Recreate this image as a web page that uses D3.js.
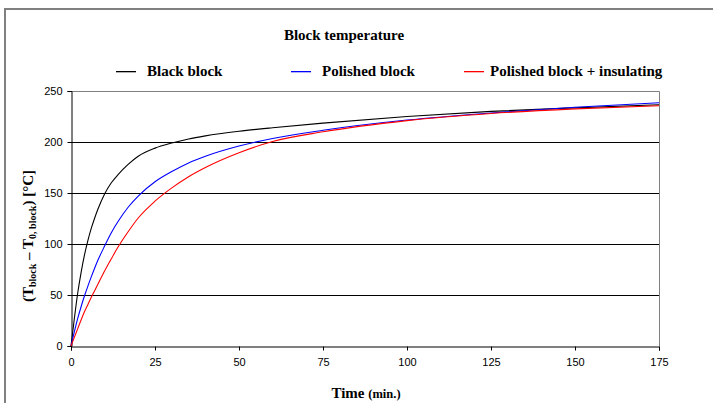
<!DOCTYPE html>
<html lang="en">
<head>
  <meta charset="UTF-8">
  <title>Block temperature</title>
  <script src="https://d3js.org/d3.v7.min.js"></script>
  <style>
    body { margin: 0; background: #fff; }
    svg { display: block; }
    .serif { font-family: "Liberation Serif", "Times New Roman", serif; font-weight: bold; }
    .tick text { font-family: "Liberation Sans", Arial, sans-serif; font-size: 11px; }
  </style>
</head>
<body>
  <div id="viz"></div>

  <script>
    // time in minutes
    const times = [0, 1, 2, 3, 4, 5, 6, 7, 8, 10, 12, 14, 17, 20, 25, 30, 35, 40, 50, 60, 75, 100, 125, 150, 175];

    // temperature rise (T_block - T_0,block) in °C
    const blackBlock = [0, 27, 52, 72, 89, 103, 115, 125, 134, 149, 160, 168, 178, 186, 194, 199, 203, 206, 210.5, 214, 218.5, 225, 230, 233.5, 236.5];
    const polishedBlock = [0, 14, 27, 38.5, 49, 58.5, 67.5, 76, 84, 98, 111, 122, 136, 147, 161, 171, 179.5, 186, 196, 203.5, 211.5, 221.5, 228.5, 234, 238.5];
    const polishedInsulated = [0, 8.5, 17, 25.5, 33.5, 40.5, 47.5, 54, 60.5, 73.5, 85.5, 97, 112, 125.5, 142, 155, 166, 175, 189.5, 200.5, 210, 221, 228, 232.5, 235.5];

    const seriesNames = ['Black block', 'Polished block', 'Polished block + insulating'];
    const seriesColors = ['#000000', '#0000ff', '#ff0000'];
    const xTicks = [0, 25, 50, 75, 100, 125, 150, 175];
    const yTicks = [0, 50, 100, 150, 200, 250];

    const series = [blackBlock, polishedBlock, polishedInsulated].map((vals, i) => ({
      name: seriesNames[i],
      color: seriesColors[i],
      points: times.map((t, j) => [t, vals[j]])
    }));

    const W = 713, H = 403;
    const svg = d3.select('#viz').append('svg')
      .attr('width', W)
      .attr('height', H);

    // outer chart frame
    svg.append('path')
      .attr('d', 'M5,' + (H + 2) + 'V9H' + (W + 2))
      .attr('fill', 'none')
      .attr('stroke', '#808080')
      .attr('stroke-width', 2);

    const x = d3.scaleLinear().domain([0, 175]).range([71, 659]);
    const y = d3.scaleLinear().domain([0, 250]).range([346, 91]);

    // gridlines
    svg.append('g')
      .selectAll('line')
      .data(yTicks.filter(v => v > 0 && v < 250))
      .join('line')
        .attr('x1', x(0)).attr('x2', x(175))
        .attr('y1', d => y(d) + 0.5).attr('y2', d => y(d) + 0.5)
        .attr('stroke', '#000');

    // plot border (top + right)
    svg.append('path')
      .attr('d', `M${x(0)},${y(250) + 0.5}H${x(175) + 0.5}V${y(0)}`)
      .attr('fill', 'none')
      .attr('stroke', '#808080');

    // axes
    svg.append('g')
      .attr('transform', `translate(0,${y(0) + 0.5})`)
      .call(d3.axisBottom(x).tickValues(xTicks).tickSize(4).tickPadding(8))
      .call(g => g.selectAll('path, line').attr('stroke', '#000'));

    svg.append('g')
      .attr('transform', `translate(${x(0) + 0.5},0)`)
      .call(d3.axisLeft(y).tickValues(yTicks).tickSize(4).tickPadding(5))
      .call(g => g.selectAll('path, line').attr('stroke', '#000'));

    // curves
    const line = d3.line()
      .x(d => x(d[0]))
      .y(d => y(d[1]))
      .curve(d3.curveMonotoneX);

    svg.append('g')
      .selectAll('path')
      .data(series)
      .join('path')
        .attr('d', d => line(d.points))
        .attr('fill', 'none')
        .attr('stroke', d => d.color)
        .attr('stroke-width', 1.1);

    // title
    svg.append('text')
      .attr('class', 'serif')
      .attr('x', 344).attr('y', 40)
      .attr('text-anchor', 'middle')
      .style('font-size', '15px')
      .text('Block temperature');

    // legend
    const legendX = [116, 291, 464];
    const legendText = [147, 322, 490];
    seriesNames.forEach((name, i) => {
      svg.append('rect')
        .attr('x', legendX[i]).attr('y', 71)
        .attr('width', 20).attr('height', 1.3)
        .attr('fill', seriesColors[i]);
      svg.append('text')
        .attr('class', 'serif')
        .attr('x', legendText[i]).attr('y', 76)
        .style('font-size', '15px')
        .text(name);
    });

    // x axis title
    const xt = svg.append('text')
      .attr('class', 'serif')
      .attr('x', 366).attr('y', 398)
      .attr('text-anchor', 'middle');
    xt.append('tspan').style('font-size', '15px').text('Time ');
    xt.append('tspan').style('font-size', '12.5px').text('(min.)');

    // y axis title
    const yt = svg.append('text')
      .attr('class', 'serif')
      .attr('transform', 'translate(33,236) rotate(-90)')
      .attr('text-anchor', 'middle')
      .style('font-size', '15px');
    yt.append('tspan').text('(T');
    yt.append('tspan').attr('dy', 3).style('font-size', '10px').text('block');
    yt.append('tspan').attr('dy', -3).text(' \u2013 T');
    yt.append('tspan').attr('dy', 3).style('font-size', '10px').text('0, block');
    yt.append('tspan').attr('dy', -3).text(') [\u00b0C]');
  </script>
</body>
</html>
